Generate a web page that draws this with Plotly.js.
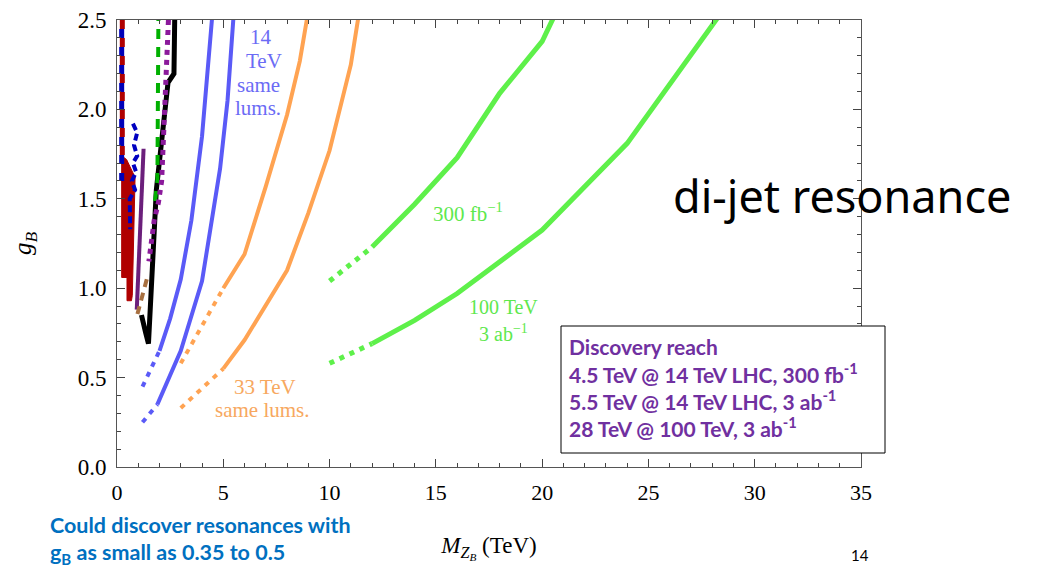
<!DOCTYPE html>
<html>
<head>
<meta charset="utf-8">
<script src="https://cdn.plot.ly/plotly-3.0.1.min.js"></script>
<style>html,body{margin:0;padding:0;background:#fff;}#chart{width:1039px;height:569px;}</style>
</head>
<body>
<div id="chart"></div>
<script>
// ---- data (M in TeV, g_B) ----
// 14 TeV LHC, 300 fb^-1 (blue, left)
const blue300DotX = [1.2, 2.0];
const blue300DotY = [0.45, 0.65];
const blue300X = [2.0, 2.5, 3.0, 3.5, 4.0, 4.5];
const blue300Y = [0.65, 0.83, 1.05, 1.38, 1.85, 2.55];
// 14 TeV LHC, 3 ab^-1 (blue, right)
const blue3abDotX = [1.2, 1.9];
const blue3abDotY = [0.25, 0.35];
const blue3abX = [1.9, 3.0, 4.0, 4.85, 5.2, 5.5];
const blue3abY = [0.35, 0.65, 1.04, 1.67, 2.05, 2.55];
// 33 TeV, 300 fb^-1 (orange, left)
const orange300DotX = [3.0, 5.0];
const orange300DotY = [0.58, 1.0];
const orange300X = [5.0, 6.0, 7.0, 8.0, 8.6, 9.0];
const orange300Y = [1.0, 1.19, 1.57, 1.97, 2.27, 2.55];
// 33 TeV, 3 ab^-1 (orange, right)
const orange3abDotX = [3.0, 5.0];
const orange3abDotY = [0.33, 0.55];
const orange3abX = [5.0, 6.0, 8.0, 9.0, 10.0, 11.0, 11.4];
const orange3abY = [0.55, 0.71, 1.10, 1.42, 1.77, 2.25, 2.55];
// 100 TeV, 300 fb^-1 (green, upper)
const green300DotX = [10, 12];
const green300DotY = [1.04, 1.23];
const green300X = [12, 14, 16, 18, 20, 20.6];
const green300Y = [1.23, 1.47, 1.73, 2.09, 2.38, 2.53];
// 100 TeV, 3 ab^-1 (green, lower)
const green3abDotX = [10, 12];
const green3abDotY = [0.58, 0.69];
const green3abX = [12, 14, 16, 20, 24, 28, 28.3];
const green3abY = [0.69, 0.82, 0.97, 1.325, 1.81, 2.47, 2.52];
// existing limits (left region)
const redDashX = [0.25, 0.25];
const redDashY = [2.5, 1.72];
const redBandX = [0.22, 0.45, 0.85, 0.8, 0.72, 0.68, 0.47, 0.47, 0.22, 0.22];
const redBandY = [1.74, 1.72, 1.62, 1.3, 0.96, 0.93, 0.93, 1.06, 1.06, 1.74];
const blueDashX = [0.22, 0.22];
const blueDashY = [2.45, 1.6];
const blueJagX = [0.75, 0.95, 0.8, 0.95, 0.75, 0.9, 0.7, 0.85, 0.6, 0.62];
const blueJagY = [1.92, 1.87, 1.8, 1.74, 1.7, 1.65, 1.6, 1.55, 1.5, 1.33];
const purpleX = [1.25, 1.18, 0.93];
const purpleY = [1.78, 1.6, 0.88];
const brownX = [1.4, 0.95];
const brownY = [1.05, 0.85];
const blackX = [2.72, 2.68, 2.4, 2.0, 1.85, 1.7, 1.58, 1.48, 1.35, 1.15];
const blackY = [2.55, 2.2, 2.15, 1.75, 1.55, 1.2, 0.9, 0.69, 0.75, 0.85];
const greenDashX = [1.95, 1.93, 1.9, 1.75];
const greenDashY = [2.55, 1.75, 1.6, 1.45];
const purpleDotX = [2.42, 2.3, 2.1, 1.95, 1.75, 1.5];
const purpleDotY = [2.5, 2.2, 1.6, 1.48, 1.38, 1.15];

const xTicks = [0, 5, 10, 15, 20, 25, 30, 35];
const yTicks = [0.0, 0.5, 1.0, 1.5, 2.0, 2.5];

// ---- styles ----
const BLUE = '#5a5af7', ORANGE = '#ffa352', GREEN = '#5ef04a';
function tr(x, y, color, width, dash) {
  return {x: x, y: y, type: 'scatter', mode: 'lines', hoverinfo: 'skip',
          line: {color: color, width: width, dash: dash || 'solid'}};
}
const DOT = '5px,6px';
const redFill = {x: redBandX, y: redBandY, type: 'scatter', mode: 'lines', fill: 'toself',
  fillcolor: '#b00000', line: {color: '#b00000', width: 1}, hoverinfo: 'skip'};
const traces = [
  redFill,
  tr(redDashX, redDashY, '#b00000', 5, '9px,9px'),
  tr(blueDashX, blueDashY, '#0000b8', 5, '9px,9px'),
  tr(blueJagX, blueJagY, '#0000c0', 4, '7px,4px'),
  tr(purpleX, purpleY, '#6b1f7b', 4),
  tr(brownX, brownY, '#a87040', 4, '8px,6px'),
  tr(blackX, blackY, '#000000', 5),
  tr(greenDashX, greenDashY, '#00b000', 4, '10px,8px'),
  tr(purpleDotX, purpleDotY, '#8b1a9b', 5, '5px,5px'),
  tr(blue300DotX, blue300DotY, BLUE, 4, DOT),
  tr(blue300X, blue300Y, BLUE, 4),
  tr(blue3abDotX, blue3abDotY, BLUE, 4, DOT),
  tr(blue3abX, blue3abY, BLUE, 4),
  tr(orange300DotX, orange300DotY, ORANGE, 4, DOT),
  tr(orange300X, orange300Y, ORANGE, 4),
  tr(orange3abDotX, orange3abDotY, ORANGE, 4, DOT),
  tr(orange3abX, orange3abY, ORANGE, 4),
  tr(green300DotX, green300DotY, GREEN, 5, DOT),
  tr(green300X, green300Y, GREEN, 5),
  tr(green3abDotX, green3abDotY, GREEN, 5, DOT),
  tr(green3abX, green3abY, GREEN, 5)
];

const SERIF = 'Liberation Serif';
function axisBase(size) {
  return {
    showline: true, linecolor: '#555', linewidth: 1, mirror: 'allticks',
    ticks: 'inside', ticklen: 8, tickcolor: '#444', tickwidth: 1,
    showgrid: false, zeroline: false,
    tickfont: {family: SERIF, size: size, color: '#000'}
  };
}
const PURPLE = '#7030a0';
const SANS = 'Lato';
const boxLines = ['<b>Discovery reach</b>',
  '<b>4.5 TeV @ 14 TeV LHC, 300 fb<sup>-1</sup></b>',
  '<b>5.5 TeV @ 14 TeV LHC, 3 ab<sup>-1</sup></b>',
  '<b>28 TeV @ 100 TeV, 3 ab<sup>-1</sup></b>'];
const boxY = [346, 373, 400, 427];
function py(p) { return (467 - p) / 447; }
function px(p) { return (p - 117) / 744; }
function label(text, xp, yp, size, color, family, anchor) {
  return {xref: 'paper', yref: 'paper', x: px(xp), y: py(yp), xanchor: anchor || 'center', yanchor: 'middle',
          text: text, showarrow: false, font: {family: family || SERIF, size: size, color: color}, align: 'left'};
}

const annotations = [];
boxLines.forEach((t, i) => annotations.push(label(t, 567, boxY[i], 21, PURPLE, SANS, 'left')));
const C14 = '#6b6bf5', C33 = '#f7a860', CG = '#5ee84e';
annotations.push(
  label('14', 261, 37, 21, C14), label('TeV', 264, 61, 21, C14),
  label('same', 258, 85, 21, C14), label('lums.', 258, 108, 21, C14),
  label('33 TeV', 265, 387, 21, C33), label('same lums.', 262, 410, 21, C33),
  label('300 fb<sup>−1</sup>', 468, 212, 21, CG),
  label('100 TeV', 503, 307, 20, CG), label('3 ab<sup>−1</sup>', 503, 333, 20, CG),
  label('di-jet resonance', 842, 195, 45, '#000', 'Noto Sans'),
  label('<b>Could discover resonances with</b>', 48, 525, 21.5, '#0070c0', SANS, 'left'),
  label('<b>g<sub>B</sub> as small as 0.35 to 0.5</b>', 48, 553, 21.5, '#0070c0', SANS, 'left'),
  label('14', 860, 555, 15, '#000', SANS)
);

const xaxis = Object.assign(axisBase(22), {
  range: [0, 35], tickvals: xTicks, ticktext: xTicks.map(String), ticklabelstandoff: 6,
  minor: {dtick: 1, ticks: 'inside', ticklen: 4, tickcolor: '#444', showgrid: false},
  title: {text: '<i>M</i><sub><i>Z</i><sub><i>B</i></sub></sub> (TeV)', font: {family: SERIF, size: 23, color: '#000'}, standoff: 32}
});
const yaxis = Object.assign(axisBase(23), {
  range: [0, 2.5], tickvals: yTicks, ticktext: yTicks.map(v => v.toFixed(1)), ticklabelstandoff: 5,
  minor: {dtick: 0.1, ticks: 'inside', ticklen: 4, tickcolor: '#444', showgrid: false},
  title: {text: '<i>g<sub>B</sub></i>', font: {family: SERIF, size: 25, color: '#000'}, standoff: 38}
});
const layout = {
  width: 1039, height: 569,
  margin: {l: 117, r: 178, t: 20, b: 102},
  paper_bgcolor: '#fff', plot_bgcolor: '#fff',
  font: {family: SERIF, size: 21, color: '#000'},
  showlegend: false,
  xaxis: xaxis, yaxis: yaxis,
  shapes: [{type: 'rect', xref: 'paper', yref: 'paper', x0: px(561), x1: px(885), y0: py(453), y1: py(326),
            line: {color: '#000', width: 1}, fillcolor: '#fff', layer: 'above'}],
  annotations: annotations
};
Plotly.newPlot('chart', traces, layout, {displayModeBar: false, staticPlot: true});
</script>
</body>
</html>
